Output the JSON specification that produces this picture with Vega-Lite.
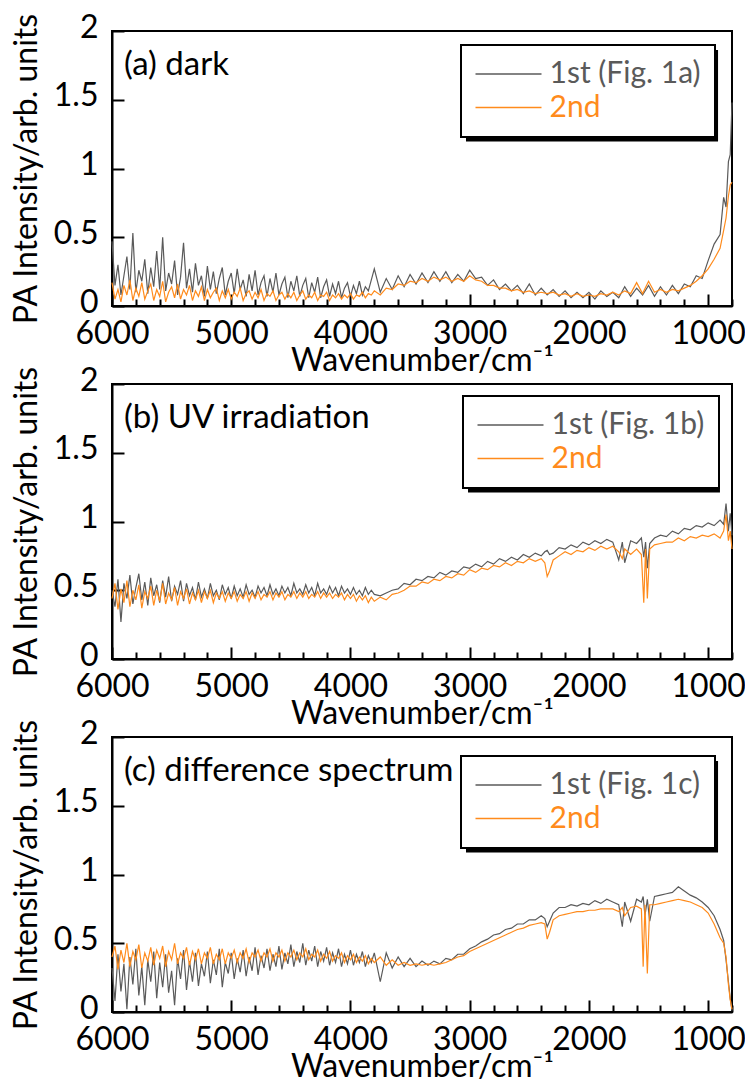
{
"$schema": "https://vega.github.io/schema/vega-lite/v6.json",
"background": "white",
"padding": {"top": 10, "left": 8, "right": 0, "bottom": 0},
"bounds": "flush",
"spacing": 78,
"config": {"view": {"stroke": "black", "strokeWidth": 2}, "font": "Lato",
  "axis": {"grid": false, "domainColor": "black", "domainWidth": 2, "tickColor": "black", "tickWidth": 2, "labelFont": "Lato", "labelFontSize": 32, "labelColor": "black", "titleFont": "Lato", "titleFontSize": 32, "titleFontWeight": "normal", "titleColor": "black"},
  "text": {"font": "Lato", "fontSize": 33, "color": "black"}},
"datasets": {
"a": [{"w":6000,"g":0.47,"o":0.17},{"w":5975,"g":0.15,"o":0.05},{"w":5950,"g":0.30,"o":0.12},{"w":5925,"g":0.08,"o":0.03},{"w":5900,"g":0.22,"o":0.15},{"w":5875,"g":0.36,"o":0.08},{"w":5850,"g":0.12,"o":0.19},{"w":5825,"g":0.53,"o":0.04},{"w":5800,"g":0.10,"o":0.13},{"w":5775,"g":0.26,"o":0.07},{"w":5750,"g":0.18,"o":0.17},{"w":5725,"g":0.34,"o":0.05},{"w":5700,"g":0.09,"o":0.11},{"w":5675,"g":0.28,"o":0.16},{"w":5650,"g":0.14,"o":0.04},{"w":5625,"g":0.40,"o":0.12},{"w":5600,"g":0.12,"o":0.07},{"w":5575,"g":0.50,"o":0.18},{"w":5550,"g":0.11,"o":0.03},{"w":5525,"g":0.24,"o":0.10},{"w":5500,"g":0.16,"o":0.14},{"w":5475,"g":0.33,"o":0.06},{"w":5450,"g":0.08,"o":0.16},{"w":5425,"g":0.21,"o":0.05},{"w":5400,"g":0.46,"o":0.12},{"w":5375,"g":0.13,"o":0.08},{"w":5350,"g":0.27,"o":0.15},{"w":5325,"g":0.10,"o":0.04},{"w":5300,"g":0.31,"o":0.11},{"w":5275,"g":0.15,"o":0.07},{"w":5250,"g":0.22,"o":0.14},{"w":5225,"g":0.07,"o":0.04},{"w":5200,"g":0.29,"o":0.12},{"w":5175,"g":0.12,"o":0.06},{"w":5150,"g":0.25,"o":0.10},{"w":5125,"g":0.09,"o":0.13},{"w":5100,"g":0.20,"o":0.04},{"w":5075,"g":0.28,"o":0.11},{"w":5050,"g":0.08,"o":0.06},{"w":5025,"g":0.18,"o":0.12},{"w":5000,"g":0.24,"o":0.05},{"w":4975,"g":0.09,"o":0.10},{"w":4950,"g":0.27,"o":0.07},{"w":4925,"g":0.12,"o":0.13},{"w":4900,"g":0.19,"o":0.04},{"w":4875,"g":0.07,"o":0.09},{"w":4850,"g":0.23,"o":0.11},{"w":4825,"g":0.11,"o":0.05},{"w":4800,"g":0.26,"o":0.10},{"w":4775,"g":0.08,"o":0.06},{"w":4750,"g":0.17,"o":0.12},{"w":4725,"g":0.22,"o":0.04},{"w":4700,"g":0.07,"o":0.09},{"w":4675,"g":0.20,"o":0.07},{"w":4650,"g":0.10,"o":0.11},{"w":4625,"g":0.24,"o":0.04},{"w":4600,"g":0.08,"o":0.08},{"w":4575,"g":0.16,"o":0.10},{"w":4550,"g":0.21,"o":0.05},{"w":4525,"g":0.06,"o":0.09},{"w":4500,"g":0.18,"o":0.06},{"w":4475,"g":0.11,"o":0.10},{"w":4450,"g":0.22,"o":0.04},{"w":4425,"g":0.07,"o":0.08},{"w":4400,"g":0.15,"o":0.11},{"w":4375,"g":0.20,"o":0.05},{"w":4350,"g":0.06,"o":0.08},{"w":4325,"g":0.17,"o":0.06},{"w":4300,"g":0.10,"o":0.10},{"w":4275,"g":0.21,"o":0.04},{"w":4250,"g":0.06,"o":0.08},{"w":4225,"g":0.14,"o":0.07},{"w":4200,"g":0.19,"o":0.10},{"w":4175,"g":0.07,"o":0.04},{"w":4150,"g":0.16,"o":0.08},{"w":4125,"g":0.09,"o":0.06},{"w":4100,"g":0.18,"o":0.09},{"w":4075,"g":0.06,"o":0.05},{"w":4050,"g":0.13,"o":0.08},{"w":4025,"g":0.17,"o":0.06},{"w":4000,"g":0.07,"o":0.09},{"w":3975,"g":0.15,"o":0.05},{"w":3950,"g":0.09,"o":0.08},{"w":3925,"g":0.18,"o":0.07},{"w":3900,"g":0.08,"o":0.10},{"w":3875,"g":0.14,"o":0.06},{"w":3850,"g":0.11,"o":0.09},{"w":3825,"g":0.19,"o":0.08},{"w":3800,"g":0.27,"o":0.11},{"w":3750,"g":0.10,"o":0.08},{"w":3700,"g":0.20,"o":0.13},{"w":3650,"g":0.12,"o":0.12},{"w":3600,"g":0.22,"o":0.16},{"w":3550,"g":0.14,"o":0.15},{"w":3500,"g":0.23,"o":0.18},{"w":3450,"g":0.16,"o":0.17},{"w":3400,"g":0.24,"o":0.20},{"w":3350,"g":0.17,"o":0.18},{"w":3300,"g":0.25,"o":0.21},{"w":3250,"g":0.18,"o":0.19},{"w":3200,"g":0.25,"o":0.21},{"w":3150,"g":0.17,"o":0.18},{"w":3100,"g":0.23,"o":0.20},{"w":3050,"g":0.18,"o":0.18},{"w":3000,"g":0.26,"o":0.22},{"w":2950,"g":0.20,"o":0.19},{"w":2900,"g":0.21,"o":0.18},{"w":2850,"g":0.15,"o":0.15},{"w":2800,"g":0.19,"o":0.15},{"w":2750,"g":0.12,"o":0.13},{"w":2700,"g":0.16,"o":0.13},{"w":2650,"g":0.11,"o":0.11},{"w":2600,"g":0.15,"o":0.12},{"w":2550,"g":0.09,"o":0.10},{"w":2500,"g":0.16,"o":0.11},{"w":2450,"g":0.08,"o":0.09},{"w":2400,"g":0.13,"o":0.10},{"w":2350,"g":0.08,"o":0.09},{"w":2300,"g":0.12,"o":0.10},{"w":2250,"g":0.07,"o":0.08},{"w":2200,"g":0.11,"o":0.09},{"w":2150,"g":0.06,"o":0.07},{"w":2100,"g":0.10,"o":0.09},{"w":2050,"g":0.06,"o":0.07},{"w":2000,"g":0.10,"o":0.08},{"w":1950,"g":0.05,"o":0.07},{"w":1900,"g":0.11,"o":0.09},{"w":1850,"g":0.07,"o":0.08},{"w":1800,"g":0.10,"o":0.10},{"w":1750,"g":0.06,"o":0.08},{"w":1700,"g":0.14,"o":0.11},{"w":1650,"g":0.07,"o":0.09},{"w":1600,"g":0.13,"o":0.17},{"w":1550,"g":0.08,"o":0.09},{"w":1500,"g":0.15,"o":0.18},{"w":1450,"g":0.07,"o":0.10},{"w":1400,"g":0.14,"o":0.12},{"w":1350,"g":0.08,"o":0.10},{"w":1300,"g":0.15,"o":0.12},{"w":1250,"g":0.09,"o":0.11},{"w":1200,"g":0.16,"o":0.13},{"w":1150,"g":0.14,"o":0.15},{"w":1100,"g":0.22,"o":0.18},{"w":1050,"g":0.20,"o":0.22},{"w":1000,"g":0.33,"o":0.27},{"w":950,"g":0.45,"o":0.34},{"w":900,"g":0.52,"o":0.42},{"w":870,"g":0.79,"o":0.55},{"w":850,"g":0.72,"o":0.64},{"w":830,"g":1.05,"o":0.80},{"w":815,"g":1.10,"o":0.88},{"w":800,"g":1.48,"o":0.90}],
"b": [{"w":6000,"g":0.50,"o":0.44},{"w":5975,"g":0.38,"o":0.55},{"w":5950,"g":0.58,"o":0.36},{"w":5925,"g":0.27,"o":0.51},{"w":5900,"g":0.55,"o":0.41},{"w":5875,"g":0.44,"o":0.57},{"w":5850,"g":0.61,"o":0.38},{"w":5825,"g":0.40,"o":0.50},{"w":5800,"g":0.52,"o":0.43},{"w":5775,"g":0.62,"o":0.54},{"w":5750,"g":0.43,"o":0.37},{"w":5725,"g":0.56,"o":0.49},{"w":5700,"g":0.39,"o":0.44},{"w":5675,"g":0.59,"o":0.53},{"w":5650,"g":0.46,"o":0.39},{"w":5625,"g":0.54,"o":0.50},{"w":5600,"g":0.41,"o":0.42},{"w":5575,"g":0.57,"o":0.55},{"w":5550,"g":0.45,"o":0.40},{"w":5525,"g":0.60,"o":0.48},{"w":5500,"g":0.42,"o":0.43},{"w":5475,"g":0.53,"o":0.52},{"w":5450,"g":0.47,"o":0.39},{"w":5425,"g":0.57,"o":0.49},{"w":5400,"g":0.42,"o":0.44},{"w":5375,"g":0.55,"o":0.51},{"w":5350,"g":0.46,"o":0.40},{"w":5325,"g":0.52,"o":0.48},{"w":5300,"g":0.43,"o":0.43},{"w":5275,"g":0.56,"o":0.50},{"w":5250,"g":0.45,"o":0.41},{"w":5225,"g":0.51,"o":0.49},{"w":5200,"g":0.44,"o":0.44},{"w":5175,"g":0.55,"o":0.50},{"w":5150,"g":0.46,"o":0.41},{"w":5125,"g":0.50,"o":0.48},{"w":5100,"g":0.43,"o":0.44},{"w":5075,"g":0.54,"o":0.49},{"w":5050,"g":0.47,"o":0.42},{"w":5025,"g":0.52,"o":0.48},{"w":5000,"g":0.44,"o":0.44},{"w":4975,"g":0.53,"o":0.49},{"w":4950,"g":0.46,"o":0.42},{"w":4925,"g":0.51,"o":0.47},{"w":4900,"g":0.45,"o":0.44},{"w":4875,"g":0.54,"o":0.49},{"w":4850,"g":0.47,"o":0.42},{"w":4825,"g":0.50,"o":0.48},{"w":4800,"g":0.45,"o":0.44},{"w":4775,"g":0.53,"o":0.49},{"w":4750,"g":0.48,"o":0.43},{"w":4725,"g":0.52,"o":0.47},{"w":4700,"g":0.46,"o":0.45},{"w":4675,"g":0.54,"o":0.49},{"w":4650,"g":0.47,"o":0.43},{"w":4625,"g":0.51,"o":0.48},{"w":4600,"g":0.46,"o":0.45},{"w":4575,"g":0.53,"o":0.49},{"w":4550,"g":0.48,"o":0.43},{"w":4525,"g":0.52,"o":0.47},{"w":4500,"g":0.46,"o":0.45},{"w":4475,"g":0.55,"o":0.49},{"w":4450,"g":0.48,"o":0.44},{"w":4425,"g":0.51,"o":0.48},{"w":4400,"g":0.47,"o":0.45},{"w":4375,"g":0.54,"o":0.49},{"w":4350,"g":0.48,"o":0.44},{"w":4325,"g":0.52,"o":0.47},{"w":4300,"g":0.46,"o":0.45},{"w":4275,"g":0.55,"o":0.49},{"w":4250,"g":0.48,"o":0.44},{"w":4225,"g":0.51,"o":0.48},{"w":4200,"g":0.47,"o":0.45},{"w":4175,"g":0.53,"o":0.48},{"w":4150,"g":0.48,"o":0.44},{"w":4125,"g":0.52,"o":0.47},{"w":4100,"g":0.46,"o":0.45},{"w":4075,"g":0.53,"o":0.48},{"w":4050,"g":0.48,"o":0.43},{"w":4025,"g":0.51,"o":0.47},{"w":4000,"g":0.47,"o":0.44},{"w":3975,"g":0.52,"o":0.47},{"w":3950,"g":0.47,"o":0.42},{"w":3925,"g":0.50,"o":0.46},{"w":3900,"g":0.46,"o":0.43},{"w":3875,"g":0.52,"o":0.46},{"w":3850,"g":0.47,"o":0.41},{"w":3825,"g":0.50,"o":0.45},{"w":3800,"g":0.47,"o":0.42},{"w":3750,"g":0.46,"o":0.45},{"w":3700,"g":0.48,"o":0.43},{"w":3650,"g":0.50,"o":0.47},{"w":3600,"g":0.51,"o":0.48},{"w":3550,"g":0.55,"o":0.50},{"w":3500,"g":0.54,"o":0.53},{"w":3450,"g":0.58,"o":0.53},{"w":3400,"g":0.57,"o":0.56},{"w":3350,"g":0.60,"o":0.55},{"w":3300,"g":0.59,"o":0.58},{"w":3250,"g":0.63,"o":0.57},{"w":3200,"g":0.61,"o":0.60},{"w":3150,"g":0.64,"o":0.59},{"w":3100,"g":0.63,"o":0.62},{"w":3050,"g":0.67,"o":0.61},{"w":3000,"g":0.66,"o":0.65},{"w":2950,"g":0.69,"o":0.63},{"w":2900,"g":0.67,"o":0.66},{"w":2850,"g":0.71,"o":0.65},{"w":2800,"g":0.69,"o":0.68},{"w":2750,"g":0.73,"o":0.67},{"w":2700,"g":0.71,"o":0.70},{"w":2650,"g":0.74,"o":0.68},{"w":2600,"g":0.72,"o":0.71},{"w":2550,"g":0.76,"o":0.70},{"w":2500,"g":0.74,"o":0.73},{"w":2450,"g":0.77,"o":0.71},{"w":2400,"g":0.75,"o":0.73},{"w":2370,"g":0.78,"o":0.70},{"w":2350,"g":0.79,"o":0.60},{"w":2330,"g":0.76,"o":0.64},{"w":2300,"g":0.77,"o":0.72},{"w":2250,"g":0.81,"o":0.75},{"w":2200,"g":0.80,"o":0.78},{"w":2150,"g":0.83,"o":0.76},{"w":2100,"g":0.81,"o":0.79},{"w":2050,"g":0.85,"o":0.78},{"w":2000,"g":0.83,"o":0.81},{"w":1950,"g":0.86,"o":0.79},{"w":1900,"g":0.84,"o":0.82},{"w":1850,"g":0.87,"o":0.80},{"w":1800,"g":0.85,"o":0.82},{"w":1750,"g":0.72,"o":0.78},{"w":1720,"g":0.85,"o":0.73},{"w":1700,"g":0.70,"o":0.80},{"w":1650,"g":0.86,"o":0.76},{"w":1600,"g":0.84,"o":0.80},{"w":1560,"g":0.88,"o":0.76},{"w":1540,"g":0.74,"o":0.41},{"w":1525,"g":0.85,"o":0.80},{"w":1510,"g":0.66,"o":0.44},{"w":1490,"g":0.84,"o":0.80},{"w":1450,"g":0.88,"o":0.83},{"w":1400,"g":0.90,"o":0.84},{"w":1350,"g":0.89,"o":0.85},{"w":1300,"g":0.93,"o":0.85},{"w":1250,"g":0.91,"o":0.88},{"w":1200,"g":0.95,"o":0.86},{"w":1150,"g":0.94,"o":0.89},{"w":1100,"g":0.97,"o":0.88},{"w":1050,"g":0.96,"o":0.90},{"w":1000,"g":0.99,"o":0.89},{"w":950,"g":0.97,"o":0.91},{"w":900,"g":1.01,"o":0.88},{"w":870,"g":0.98,"o":0.93},{"w":850,"g":1.13,"o":1.05},{"w":830,"g":0.93,"o":0.86},{"w":815,"g":1.06,"o":0.93},{"w":800,"g":0.90,"o":0.80}],
"c": [{"w":6000,"g":0.32,"o":0.40},{"w":5975,"g":0.08,"o":0.48},{"w":5950,"g":0.42,"o":0.31},{"w":5925,"g":0.15,"o":0.45},{"w":5900,"g":0.35,"o":0.36},{"w":5875,"g":0.02,"o":0.50},{"w":5850,"g":0.40,"o":0.33},{"w":5825,"g":0.20,"o":0.44},{"w":5800,"g":0.46,"o":0.38},{"w":5775,"g":0.12,"o":0.49},{"w":5750,"g":0.33,"o":0.32},{"w":5725,"g":0.05,"o":0.43},{"w":5700,"g":0.38,"o":0.37},{"w":5675,"g":0.22,"o":0.47},{"w":5650,"g":0.44,"o":0.34},{"w":5625,"g":0.10,"o":0.45},{"w":5600,"g":0.36,"o":0.39},{"w":5575,"g":0.18,"o":0.48},{"w":5550,"g":0.42,"o":0.33},{"w":5525,"g":0.14,"o":0.44},{"w":5500,"g":0.30,"o":0.38},{"w":5475,"g":0.05,"o":0.50},{"w":5450,"g":0.39,"o":0.35},{"w":5425,"g":0.24,"o":0.43},{"w":5400,"g":0.45,"o":0.39},{"w":5375,"g":0.16,"o":0.47},{"w":5350,"g":0.37,"o":0.34},{"w":5325,"g":0.22,"o":0.44},{"w":5300,"g":0.43,"o":0.38},{"w":5275,"g":0.19,"o":0.46},{"w":5250,"g":0.35,"o":0.35},{"w":5225,"g":0.26,"o":0.43},{"w":5200,"g":0.44,"o":0.39},{"w":5175,"g":0.21,"o":0.47},{"w":5150,"g":0.38,"o":0.35},{"w":5125,"g":0.27,"o":0.42},{"w":5100,"g":0.46,"o":0.38},{"w":5075,"g":0.18,"o":0.46},{"w":5050,"g":0.36,"o":0.35},{"w":5025,"g":0.28,"o":0.43},{"w":5000,"g":0.43,"o":0.39},{"w":4975,"g":0.24,"o":0.45},{"w":4950,"g":0.39,"o":0.36},{"w":4925,"g":0.29,"o":0.43},{"w":4900,"g":0.45,"o":0.39},{"w":4875,"g":0.26,"o":0.46},{"w":4850,"g":0.40,"o":0.36},{"w":4825,"g":0.30,"o":0.43},{"w":4800,"g":0.47,"o":0.40},{"w":4775,"g":0.27,"o":0.45},{"w":4750,"g":0.41,"o":0.37},{"w":4725,"g":0.32,"o":0.43},{"w":4700,"g":0.46,"o":0.40},{"w":4675,"g":0.30,"o":0.46},{"w":4650,"g":0.42,"o":0.37},{"w":4625,"g":0.33,"o":0.43},{"w":4600,"g":0.48,"o":0.40},{"w":4575,"g":0.31,"o":0.45},{"w":4550,"g":0.43,"o":0.37},{"w":4525,"g":0.35,"o":0.43},{"w":4500,"g":0.49,"o":0.40},{"w":4475,"g":0.33,"o":0.45},{"w":4450,"g":0.44,"o":0.38},{"w":4425,"g":0.36,"o":0.43},{"w":4400,"g":0.50,"o":0.40},{"w":4375,"g":0.34,"o":0.46},{"w":4350,"g":0.45,"o":0.38},{"w":4325,"g":0.37,"o":0.42},{"w":4300,"g":0.48,"o":0.40},{"w":4275,"g":0.33,"o":0.45},{"w":4250,"g":0.44,"o":0.37},{"w":4225,"g":0.37,"o":0.42},{"w":4200,"g":0.47,"o":0.39},{"w":4175,"g":0.34,"o":0.44},{"w":4150,"g":0.43,"o":0.37},{"w":4125,"g":0.36,"o":0.41},{"w":4100,"g":0.46,"o":0.39},{"w":4075,"g":0.33,"o":0.43},{"w":4050,"g":0.42,"o":0.36},{"w":4025,"g":0.35,"o":0.41},{"w":4000,"g":0.45,"o":0.38},{"w":3975,"g":0.34,"o":0.42},{"w":3950,"g":0.42,"o":0.36},{"w":3925,"g":0.36,"o":0.40},{"w":3900,"g":0.44,"o":0.37},{"w":3875,"g":0.33,"o":0.41},{"w":3850,"g":0.41,"o":0.35},{"w":3825,"g":0.36,"o":0.39},{"w":3800,"g":0.43,"o":0.36},{"w":3750,"g":0.22,"o":0.40},{"w":3700,"g":0.43,"o":0.34},{"w":3650,"g":0.32,"o":0.38},{"w":3600,"g":0.40,"o":0.34},{"w":3550,"g":0.33,"o":0.36},{"w":3500,"g":0.39,"o":0.34},{"w":3450,"g":0.33,"o":0.35},{"w":3400,"g":0.37,"o":0.34},{"w":3350,"g":0.34,"o":0.35},{"w":3300,"g":0.37,"o":0.34},{"w":3250,"g":0.35,"o":0.35},{"w":3200,"g":0.39,"o":0.36},{"w":3150,"g":0.38,"o":0.38},{"w":3100,"g":0.42,"o":0.40},{"w":3050,"g":0.42,"o":0.41},{"w":3000,"g":0.46,"o":0.44},{"w":2950,"g":0.48,"o":0.46},{"w":2900,"g":0.51,"o":0.48},{"w":2850,"g":0.53,"o":0.50},{"w":2800,"g":0.56,"o":0.52},{"w":2750,"g":0.57,"o":0.54},{"w":2700,"g":0.60,"o":0.56},{"w":2650,"g":0.61,"o":0.58},{"w":2600,"g":0.64,"o":0.60},{"w":2550,"g":0.64,"o":0.61},{"w":2500,"g":0.67,"o":0.63},{"w":2450,"g":0.67,"o":0.64},{"w":2400,"g":0.70,"o":0.65},{"w":2370,"g":0.68,"o":0.64},{"w":2350,"g":0.62,"o":0.53},{"w":2330,"g":0.66,"o":0.58},{"w":2300,"g":0.72,"o":0.67},{"w":2250,"g":0.76,"o":0.70},{"w":2200,"g":0.76,"o":0.71},{"w":2150,"g":0.78,"o":0.72},{"w":2100,"g":0.77,"o":0.73},{"w":2050,"g":0.79,"o":0.73},{"w":2000,"g":0.78,"o":0.74},{"w":1950,"g":0.81,"o":0.74},{"w":1900,"g":0.79,"o":0.75},{"w":1850,"g":0.82,"o":0.75},{"w":1800,"g":0.80,"o":0.75},{"w":1750,"g":0.78,"o":0.73},{"w":1720,"g":0.62,"o":0.76},{"w":1700,"g":0.80,"o":0.70},{"w":1650,"g":0.66,"o":0.76},{"w":1600,"g":0.82,"o":0.77},{"w":1560,"g":0.80,"o":0.75},{"w":1545,"g":0.84,"o":0.33},{"w":1530,"g":0.70,"o":0.78},{"w":1510,"g":0.82,"o":0.28},{"w":1490,"g":0.66,"o":0.78},{"w":1450,"g":0.84,"o":0.78},{"w":1400,"g":0.85,"o":0.79},{"w":1350,"g":0.86,"o":0.80},{"w":1300,"g":0.87,"o":0.81},{"w":1250,"g":0.91,"o":0.82},{"w":1200,"g":0.88,"o":0.81},{"w":1150,"g":0.85,"o":0.80},{"w":1100,"g":0.83,"o":0.78},{"w":1050,"g":0.80,"o":0.76},{"w":1000,"g":0.76,"o":0.72},{"w":950,"g":0.70,"o":0.64},{"w":900,"g":0.60,"o":0.54},{"w":870,"g":0.52,"o":0.50},{"w":850,"g":0.38,"o":0.40},{"w":830,"g":0.22,"o":0.20},{"w":815,"g":0.10,"o":0.09},{"w":800,"g":0.01,"o":0.02}]
},
"resolve": {"scale": {"color": "independent"}, "legend": {"color": "independent"}},
"vconcat": [
{
 "width": 620, "height": 275,
 "layer": [
  {"data": {"name": "a"}, "transform": [{"fold": ["g", "o"], "as": ["s", "v"]}], "mark": {"type": "line", "strokeWidth": 1.2},
   "encoding": {
    "x": {"field": "w", "type": "quantitative", "scale": {"domain": [800, 6000], "reverse": true, "nice": false, "zero": false},
      "axis": {"values": [6000,5800,5600,5400,5200,5000,4800,4600,4400,4200,4000,3800,3600,3400,3200,3000,2800,2600,2400,2200,2000,1800,1600,1400,1200,1000,800], "labelExpr": "datum.value % 1000 === 0 ? format(datum.value, 'd') : ''", "tickSize": {"condition": {"test": "datum.value % 1000 === 0", "value": -12}, "value": -7}, "labelPadding": 24, "labelFlush": false, "labelOverlap": false, "title": "Wavenumber/cm⁻¹", "titleY": 54, "titleBaseline": "middle"}},
    "y": {"field": "v", "type": "quantitative", "scale": {"domain": [0, 2], "nice": false},
      "axis": {"values": [0, 0.5, 1, 1.5, 2], "format": ".1~f", "tickSize": -12, "labelPadding": 26, "labelOffset": -4, "labelOverlap": false, "title": "PA Intensity/arb. units", "titleX": -86, "titleY": 137.5, "titleBaseline": "middle", "titleAngle": -90}},
    "color": {"field": "s", "type": "nominal", "scale": {"domain": ["g", "o"], "range": ["#5a5a5a", "#ff8b1c"]},
      "legend": {"orient": "none", "legendX": 349, "legendY": 14, "title": null, "labelExpr": "datum.value === 'g' ? '1st (Fig. 1a)' : '2nd'", "symbolType": "M-3,0H3", "symbolSize": 484, "symbolStrokeWidth": 1.5, "symbolOffset": 18.5, "labelFont": "Lato", "labelFontSize": 30, "labelOffset": 26, "labelLimit": 400, "padding": 14, "rowPadding": 3.5, "fillColor": "white", "strokeColor": "black",
        "encode": {"legend": {"update": {"strokeWidth": {"value": 2}}}, "labels": {"update": {"fill": {"signal": "datum.value === 'o' ? '#ff8b1c' : '#5a5a5a'"}}}}}}
   }},
  {"data": {"values": [{}]}, "mark": {"type": "rect", "fill": "black"},
   "encoding": {
    "x": {"datum": 3031, "type": "quantitative", "scale": {"domain": [800, 6000], "reverse": true, "nice": false, "zero": false},
      "axis": {"values": [6000,5800,5600,5400,5200,5000,4800,4600,4400,4200,4000,3800,3600,3400,3200,3000,2800,2600,2400,2200,2000,1800,1600,1400,1200,1000,800], "labelExpr": "datum.value % 1000 === 0 ? format(datum.value, 'd') : ''", "tickSize": {"condition": {"test": "datum.value % 1000 === 0", "value": -12}, "value": -7}, "labelPadding": 24, "labelFlush": false, "labelOverlap": false, "title": "Wavenumber/cm⁻¹", "titleY": 54, "titleBaseline": "middle"}},
    "x2": {"datum": 917},
    "y": {"datum": 1.862, "type": "quantitative", "scale": {"domain": [0, 2], "nice": false},
      "axis": {"values": [0, 0.5, 1, 1.5, 2], "format": ".1~f", "tickSize": -12, "labelPadding": 26, "labelOffset": -4, "labelOverlap": false, "title": "PA Intensity/arb. units", "titleX": -86, "titleY": 137.5, "titleBaseline": "middle", "titleAngle": -90}},
    "y2": {"datum": 1.196}}},
  {"data": {"values": [{}]}, "mark": {"type": "text", "align": "left", "baseline": "alphabetic"},
   "encoding": {
    "x": {"datum": 5899, "type": "quantitative", "scale": {"domain": [800, 6000], "reverse": true, "nice": false, "zero": false},
      "axis": {"values": [6000,5800,5600,5400,5200,5000,4800,4600,4400,4200,4000,3800,3600,3400,3200,3000,2800,2600,2400,2200,2000,1800,1600,1400,1200,1000,800], "labelExpr": "datum.value % 1000 === 0 ? format(datum.value, 'd') : ''", "tickSize": {"condition": {"test": "datum.value % 1000 === 0", "value": -12}, "value": -7}, "labelPadding": 24, "labelFlush": false, "labelOverlap": false, "title": "Wavenumber/cm⁻¹", "titleY": 54, "titleBaseline": "middle"}},
    "y": {"datum": 1.68, "type": "quantitative", "scale": {"domain": [0, 2], "nice": false},
      "axis": {"values": [0, 0.5, 1, 1.5, 2], "format": ".1~f", "tickSize": -12, "labelPadding": 26, "labelOffset": -4, "labelOverlap": false, "title": "PA Intensity/arb. units", "titleX": -86, "titleY": 137.5, "titleBaseline": "middle", "titleAngle": -90}},
    "text": {"value": "(a) dark"}}}
 ]
},
{
 "width": 620, "height": 275,
 "layer": [
  {"data": {"name": "b"}, "transform": [{"fold": ["g", "o"], "as": ["s", "v"]}], "mark": {"type": "line", "strokeWidth": 1.2},
   "encoding": {
    "x": {"field": "w", "type": "quantitative", "scale": {"domain": [800, 6000], "reverse": true, "nice": false, "zero": false},
      "axis": {"values": [6000,5800,5600,5400,5200,5000,4800,4600,4400,4200,4000,3800,3600,3400,3200,3000,2800,2600,2400,2200,2000,1800,1600,1400,1200,1000,800], "labelExpr": "datum.value % 1000 === 0 ? format(datum.value, 'd') : ''", "tickSize": {"condition": {"test": "datum.value % 1000 === 0", "value": -12}, "value": -7}, "labelPadding": 24, "labelFlush": false, "labelOverlap": false, "title": "Wavenumber/cm⁻¹", "titleY": 54, "titleBaseline": "middle"}},
    "y": {"field": "v", "type": "quantitative", "scale": {"domain": [0, 2], "nice": false},
      "axis": {"values": [0, 0.5, 1, 1.5, 2], "format": ".1~f", "tickSize": -12, "labelPadding": 26, "labelOffset": -4, "labelOverlap": false, "title": "PA Intensity/arb. units", "titleX": -86, "titleY": 137.5, "titleBaseline": "middle", "titleAngle": -90}},
    "color": {"field": "s", "type": "nominal", "scale": {"domain": ["g", "o"], "range": ["#5a5a5a", "#ff8b1c"]},
      "legend": {"orient": "none", "legendX": 351, "legendY": 12, "title": null, "labelExpr": "datum.value === 'g' ? '1st (Fig. 1b)' : '2nd'", "symbolType": "M-3,0H3", "symbolSize": 484, "symbolStrokeWidth": 1.5, "symbolOffset": 18.5, "labelFont": "Lato", "labelFontSize": 30, "labelOffset": 26, "labelLimit": 400, "padding": 14, "rowPadding": 3.5, "fillColor": "white", "strokeColor": "black",
        "encode": {"legend": {"update": {"strokeWidth": {"value": 2}}}, "labels": {"update": {"fill": {"signal": "datum.value === 'o' ? '#ff8b1c' : '#5a5a5a'"}}}}}}
   }},
  {"data": {"values": [{}]}, "mark": {"type": "rect", "fill": "black"},
   "encoding": {
    "x": {"datum": 3014, "type": "quantitative", "scale": {"domain": [800, 6000], "reverse": true, "nice": false, "zero": false},
      "axis": {"values": [6000,5800,5600,5400,5200,5000,4800,4600,4400,4200,4000,3800,3600,3400,3200,3000,2800,2600,2400,2200,2000,1800,1600,1400,1200,1000,800], "labelExpr": "datum.value % 1000 === 0 ? format(datum.value, 'd') : ''", "tickSize": {"condition": {"test": "datum.value % 1000 === 0", "value": -12}, "value": -7}, "labelPadding": 24, "labelFlush": false, "labelOverlap": false, "title": "Wavenumber/cm⁻¹", "titleY": 54, "titleBaseline": "middle"}},
    "x2": {"datum": 901},
    "y": {"datum": 1.876, "type": "quantitative", "scale": {"domain": [0, 2], "nice": false},
      "axis": {"values": [0, 0.5, 1, 1.5, 2], "format": ".1~f", "tickSize": -12, "labelPadding": 26, "labelOffset": -4, "labelOverlap": false, "title": "PA Intensity/arb. units", "titleX": -86, "titleY": 137.5, "titleBaseline": "middle", "titleAngle": -90}},
    "y2": {"datum": 1.211}}},
  {"data": {"values": [{}]}, "mark": {"type": "text", "align": "left", "baseline": "alphabetic"},
   "encoding": {
    "x": {"datum": 5899, "type": "quantitative", "scale": {"domain": [800, 6000], "reverse": true, "nice": false, "zero": false},
      "axis": {"values": [6000,5800,5600,5400,5200,5000,4800,4600,4400,4200,4000,3800,3600,3400,3200,3000,2800,2600,2400,2200,2000,1800,1600,1400,1200,1000,800], "labelExpr": "datum.value % 1000 === 0 ? format(datum.value, 'd') : ''", "tickSize": {"condition": {"test": "datum.value % 1000 === 0", "value": -12}, "value": -7}, "labelPadding": 24, "labelFlush": false, "labelOverlap": false, "title": "Wavenumber/cm⁻¹", "titleY": 54, "titleBaseline": "middle"}},
    "y": {"datum": 1.68, "type": "quantitative", "scale": {"domain": [0, 2], "nice": false},
      "axis": {"values": [0, 0.5, 1, 1.5, 2], "format": ".1~f", "tickSize": -12, "labelPadding": 26, "labelOffset": -4, "labelOverlap": false, "title": "PA Intensity/arb. units", "titleX": -86, "titleY": 137.5, "titleBaseline": "middle", "titleAngle": -90}},
    "text": {"value": "(b) UV irradiation"}}}
 ]
},
{
 "width": 620, "height": 275,
 "layer": [
  {"data": {"name": "c"}, "transform": [{"fold": ["g", "o"], "as": ["s", "v"]}], "mark": {"type": "line", "strokeWidth": 1.2},
   "encoding": {
    "x": {"field": "w", "type": "quantitative", "scale": {"domain": [800, 6000], "reverse": true, "nice": false, "zero": false},
      "axis": {"values": [6000,5800,5600,5400,5200,5000,4800,4600,4400,4200,4000,3800,3600,3400,3200,3000,2800,2600,2400,2200,2000,1800,1600,1400,1200,1000,800], "labelExpr": "datum.value % 1000 === 0 ? format(datum.value, 'd') : ''", "tickSize": {"condition": {"test": "datum.value % 1000 === 0", "value": -12}, "value": -7}, "labelPadding": 24, "labelFlush": false, "labelOverlap": false, "title": "Wavenumber/cm⁻¹", "titleY": 54, "titleBaseline": "middle"}},
    "y": {"field": "v", "type": "quantitative", "scale": {"domain": [0, 2], "nice": false},
      "axis": {"values": [0, 0.5, 1, 1.5, 2], "format": ".1~f", "tickSize": -12, "labelPadding": 26, "labelOffset": -4, "labelOverlap": false, "title": "PA Intensity/arb. units", "titleX": -86, "titleY": 137.5, "titleBaseline": "middle", "titleAngle": -90}},
    "color": {"field": "s", "type": "nominal", "scale": {"domain": ["g", "o"], "range": ["#5a5a5a", "#ff8b1c"]},
      "legend": {"orient": "none", "legendX": 349, "legendY": 19, "title": null, "labelExpr": "datum.value === 'g' ? '1st (Fig. 1c)' : '2nd'", "symbolType": "M-3,0H3", "symbolSize": 484, "symbolStrokeWidth": 1.5, "symbolOffset": 18.5, "labelFont": "Lato", "labelFontSize": 30, "labelOffset": 26, "labelLimit": 400, "padding": 14, "rowPadding": 3.5, "fillColor": "white", "strokeColor": "black",
        "encode": {"legend": {"update": {"strokeWidth": {"value": 2}}}, "labels": {"update": {"fill": {"signal": "datum.value === 'o' ? '#ff8b1c' : '#5a5a5a'"}}}}}}
   }},
  {"data": {"values": [{}]}, "mark": {"type": "rect", "fill": "black"},
   "encoding": {
    "x": {"datum": 3031, "type": "quantitative", "scale": {"domain": [800, 6000], "reverse": true, "nice": false, "zero": false},
      "axis": {"values": [6000,5800,5600,5400,5200,5000,4800,4600,4400,4200,4000,3800,3600,3400,3200,3000,2800,2600,2400,2200,2000,1800,1600,1400,1200,1000,800], "labelExpr": "datum.value % 1000 === 0 ? format(datum.value, 'd') : ''", "tickSize": {"condition": {"test": "datum.value % 1000 === 0", "value": -12}, "value": -7}, "labelPadding": 24, "labelFlush": false, "labelOverlap": false, "title": "Wavenumber/cm⁻¹", "titleY": 54, "titleBaseline": "middle"}},
    "x2": {"datum": 917},
    "y": {"datum": 1.825, "type": "quantitative", "scale": {"domain": [0, 2], "nice": false},
      "axis": {"values": [0, 0.5, 1, 1.5, 2], "format": ".1~f", "tickSize": -12, "labelPadding": 26, "labelOffset": -4, "labelOverlap": false, "title": "PA Intensity/arb. units", "titleX": -86, "titleY": 137.5, "titleBaseline": "middle", "titleAngle": -90}},
    "y2": {"datum": 1.16}}},
  {"data": {"values": [{}]}, "mark": {"type": "text", "align": "left", "baseline": "alphabetic"},
   "encoding": {
    "x": {"datum": 5899, "type": "quantitative", "scale": {"domain": [800, 6000], "reverse": true, "nice": false, "zero": false},
      "axis": {"values": [6000,5800,5600,5400,5200,5000,4800,4600,4400,4200,4000,3800,3600,3400,3200,3000,2800,2600,2400,2200,2000,1800,1600,1400,1200,1000,800], "labelExpr": "datum.value % 1000 === 0 ? format(datum.value, 'd') : ''", "tickSize": {"condition": {"test": "datum.value % 1000 === 0", "value": -12}, "value": -7}, "labelPadding": 24, "labelFlush": false, "labelOverlap": false, "title": "Wavenumber/cm⁻¹", "titleY": 54, "titleBaseline": "middle"}},
    "y": {"datum": 1.68, "type": "quantitative", "scale": {"domain": [0, 2], "nice": false},
      "axis": {"values": [0, 0.5, 1, 1.5, 2], "format": ".1~f", "tickSize": -12, "labelPadding": 26, "labelOffset": -4, "labelOverlap": false, "title": "PA Intensity/arb. units", "titleX": -86, "titleY": 137.5, "titleBaseline": "middle", "titleAngle": -90}},
    "text": {"value": "(c) difference spectrum"}}}
 ]
}
]
}
